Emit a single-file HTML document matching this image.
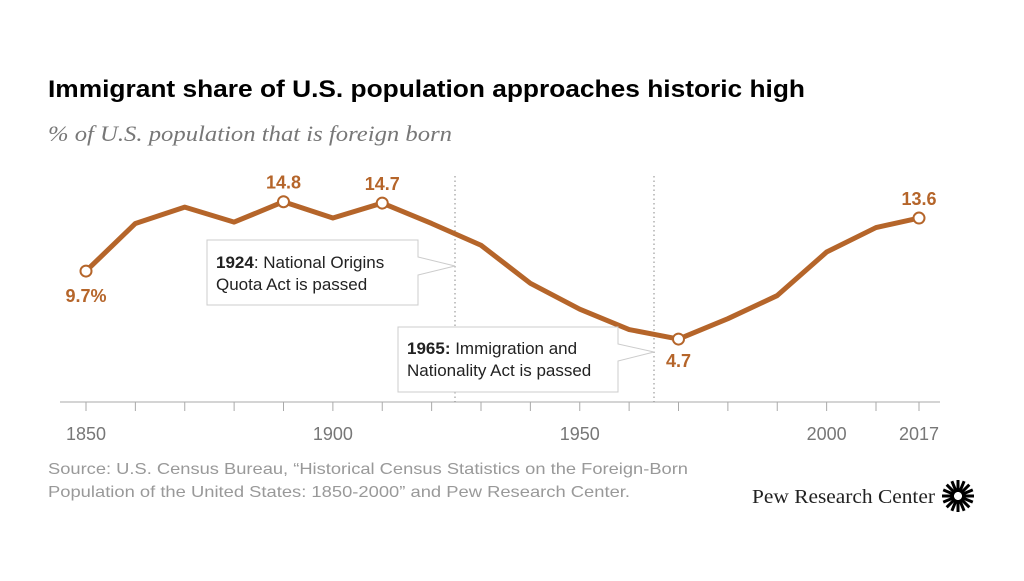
<!DOCTYPE html>
<html><head><meta charset="utf-8"><style>
body{margin:0;background:#fff;width:1024px;height:576px;overflow:hidden;font-family:"Liberation Sans",sans-serif}
</style></head><body>
<svg width="1024" height="576" xmlns="http://www.w3.org/2000/svg">
<text x="48" y="97" font-size="24" font-weight="bold" fill="#000" textLength="757" lengthAdjust="spacingAndGlyphs">Immigrant share of U.S. population approaches historic high</text>
<text x="48" y="141" font-size="22" font-style="italic" font-family="Liberation Serif,serif" fill="#777" textLength="404" lengthAdjust="spacingAndGlyphs">% of U.S. population that is foreign born</text>
<g id="axis"></g>
<line x1="455" y1="176" x2="455" y2="402" stroke="#888" stroke-dasharray="1.5,3"/>
<line x1="654" y1="176" x2="654" y2="402" stroke="#888" stroke-dasharray="1.5,3"/>
<g id="series"></g>
<g>
<path d="M207 240 H418 V257 L455 266 L418 275 V305 H207 Z" fill="#fff" stroke="#ccc"/>
<text x="216" y="268" font-size="17" fill="#222"><tspan font-weight="bold">1924</tspan>: National Origins</text>
<text x="216" y="290" font-size="17" fill="#222">Quota Act is passed</text>
</g>
<g>
<path d="M398 327 H618 V344 L654 352 L618 361 V392 H398 Z" fill="#fff" stroke="#ccc"/>
<text x="407" y="354" font-size="17" fill="#222"><tspan font-weight="bold">1965:</tspan> Immigration and</text>
<text x="407" y="376" font-size="17" fill="#222">Nationality Act is passed</text>
</g>
<text x="48" y="474" font-size="16" fill="#999" textLength="640" lengthAdjust="spacingAndGlyphs">Source: U.S. Census Bureau, “Historical Census Statistics on the Foreign-Born</text>
<text x="48" y="497" font-size="16" fill="#999" textLength="582" lengthAdjust="spacingAndGlyphs">Population of the United States: 1850-2000” and Pew Research Center.</text>
<text x="752" y="503" font-size="20" font-family="Liberation Serif,serif" fill="#222" textLength="183" lengthAdjust="spacingAndGlyphs">Pew Research Center</text>
<g id="logo" transform="translate(958,496)"></g>
</svg>
<script>
const years=[1850,1860,1870,1880,1890,1900,1910,1920,1930,1940,1950,1960,1970,1980,1990,2000,2010,2017];
const values=[9.7,13.2,14.4,13.3,14.8,13.6,14.7,13.2,11.6,8.8,6.9,5.4,4.7,6.2,7.9,11.1,12.9,13.6];
const tickLabels=[1850,1900,1950,2000,2017];
const labeled=[{i:0,t:"9.7%",dy:31},{i:4,t:"14.8",dy:-13},{i:6,t:"14.7",dy:-13},{i:12,t:"4.7",dy:28},{i:17,t:"13.6",dy:-13}];
const NS="http://www.w3.org/2000/svg";
const x=y=>y<=2010?86+(y-1850)*4.9375:876+(y-2010)*43/7;
const yv=v=>403-v*13.6;
const ax=document.getElementById('axis');
let l=document.createElementNS(NS,'line');
l.setAttribute('x1',60);l.setAttribute('x2',940);l.setAttribute('y1',402);l.setAttribute('y2',402);l.setAttribute('stroke','#aaa');


ax.appendChild(l);
years.forEach(yr=>{const t=document.createElementNS(NS,'line');
t.setAttribute('x1',x(yr));t.setAttribute('x2',x(yr));t.setAttribute('y1',402);t.setAttribute('y2',411);t.setAttribute('stroke','#aaa');


ax.appendChild(t);});
tickLabels.forEach(yr=>{const t=document.createElementNS(NS,'text');
t.setAttribute('x',x(yr));t.setAttribute('y',440);t.setAttribute('text-anchor','middle');t.setAttribute('font-size','18');t.setAttribute('fill','#777');t.textContent=yr;


ax.appendChild(t);});
const g=document.getElementById('series');
const p=document.createElementNS(NS,'polyline');
p.setAttribute('points',years.map((yr,i)=>x(yr)+','+yv(values[i])).join(' '));
p.setAttribute('fill','none');p.setAttribute('stroke','#b5652a');p.setAttribute('stroke-width','5');p.setAttribute('stroke-linejoin','round');


g.appendChild(p);
labeled.forEach(d=>{const c=document.createElementNS(NS,'circle');
c.setAttribute('cx',x(years[d.i]));c.setAttribute('cy',yv(values[d.i]));c.setAttribute('r',5.5);c.setAttribute('fill','#fff');c.setAttribute('stroke','#b5652a');c.setAttribute('stroke-width','2');


g.appendChild(c);
const t=document.createElementNS(NS,'text');
t.setAttribute('x',x(years[d.i]));t.setAttribute('y',yv(values[d.i])+d.dy);t.setAttribute('text-anchor','middle');t.setAttribute('font-size','18');t.setAttribute('font-weight','bold');t.setAttribute('fill','#b5652a');t.textContent=d.t;


g.appendChild(t);});
const lg=document.getElementById('logo');
for(let k=0;k<16;k++){const a=k*Math.PI/8;const r=document.createElementNS(NS,'line');
r.setAttribute('x1',4*Math.cos(a));r.setAttribute('y1',4*Math.sin(a));r.setAttribute('x2',16*Math.cos(a));r.setAttribute('y2',16*Math.sin(a));r.setAttribute('stroke','#000');r.setAttribute('stroke-width','3');


lg.appendChild(r);}
</script>
</body></html>
